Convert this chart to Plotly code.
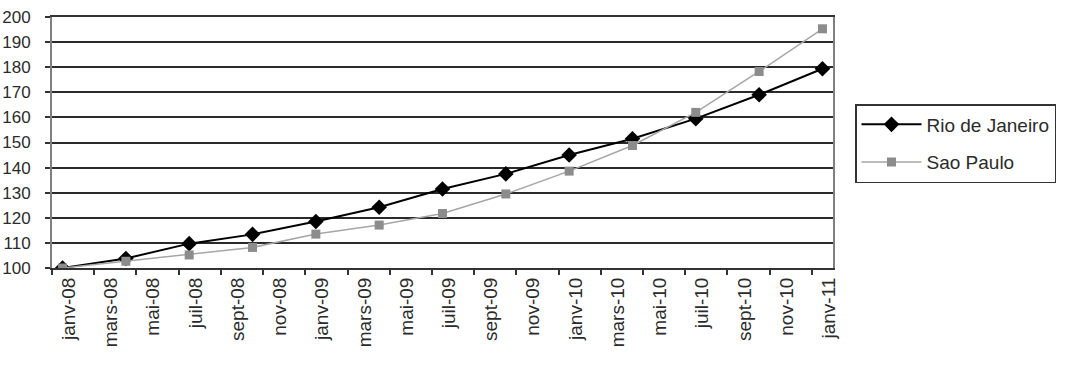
import plotly.graph_objects as go

# month index (0 = janv-08) of each data point
point_months = [0, 3, 6, 9, 12, 15, 18, 21, 24, 27, 30, 33, 36]
rio = [100, 103.8, 109.7, 113.4, 118.5, 124.2, 131.5, 137.5, 145.0, 151.5, 159.5, 169.0, 179.4]
sao_paulo = [100, 102.7, 105.2, 108.2, 113.5, 117.1, 121.7, 129.5, 138.6, 148.8, 162.0, 178.3, 195.3]

tick_labels = ["janv-08", "mars-08", "mai-08", "juil-08", "sept-08", "nov-08",
               "janv-09", "mars-09", "mai-09", "juil-09", "sept-09", "nov-09",
               "janv-10", "mars-10", "mai-10", "juil-10", "sept-10", "nov-10",
               "janv-11"]
tick_months = list(range(0, 37, 2))

FONT = "Liberation Sans, Arial, sans-serif"
TXT = "#2b2b2b"

fig = go.Figure()
fig.add_trace(go.Scatter(
    x=point_months, y=rio, name="Rio de Janeiro", mode="lines+markers",
    legendgroup="rio",
    line=dict(color="#000000", width=2),
    marker=dict(symbol="diamond", size=12, color="#000000"),
))
fig.add_trace(go.Scatter(
    x=point_months, y=sao_paulo, name="Sao Paulo", mode="lines+markers",
    legendgroup="sp",
    line=dict(color="#a6a6a6", width=1.5),
    marker=dict(symbol="square", size=9, color="#8c8c8c"),
))

fig.update_layout(
    width=1066, height=366,
    margin=dict(l=52, r=233, t=17, b=98),
    paper_bgcolor="white", plot_bgcolor="white",
    font=dict(family=FONT, color=TXT),
    showlegend=True,
    legend=dict(
        xref="container", yref="container",
        x=855 / 1066, y=1 - 104 / 366, xanchor="left", yanchor="top",
        bordercolor="#333333", borderwidth=1.5, bgcolor="white",
        font=dict(size=19, family=FONT, color=TXT),
        itemwidth=60,
        tracegroupgap=10, traceorder="grouped",
    ),
    xaxis=dict(
        range=[-0.5, 36.5],
        tickmode="array",
        tickvals=[m + 0.3 for m in tick_months],
        ticktext=tick_labels,
        tickangle=-90,
        ticks="",
        tickfont=dict(size=19, family=FONT, color=TXT),
        showgrid=False, zeroline=False, automargin=False,
        showline=True, linecolor="#333333", linewidth=2, mirror=True,
        minor=dict(tickvals=[m - 0.5 for m in tick_months],
                   ticks="outside", ticklen=5, tickcolor="#333333", tickwidth=1.5,
                   showgrid=False),
    ),
    yaxis=dict(
        range=[100, 200], dtick=10, tick0=100,
        ticks="outside", ticklen=5, tickcolor="#333333", tickwidth=1.5,
        tickfont=dict(size=17, family=FONT, color=TXT),
        showgrid=True, gridcolor="#2a2a2a", gridwidth=1.5,
        zeroline=False, automargin=False,
        showline=True, linecolor="#808080", linewidth=2, mirror=True,
        ticklabelstandoff=11,
    ),
)

fig.write_html("out.html")
